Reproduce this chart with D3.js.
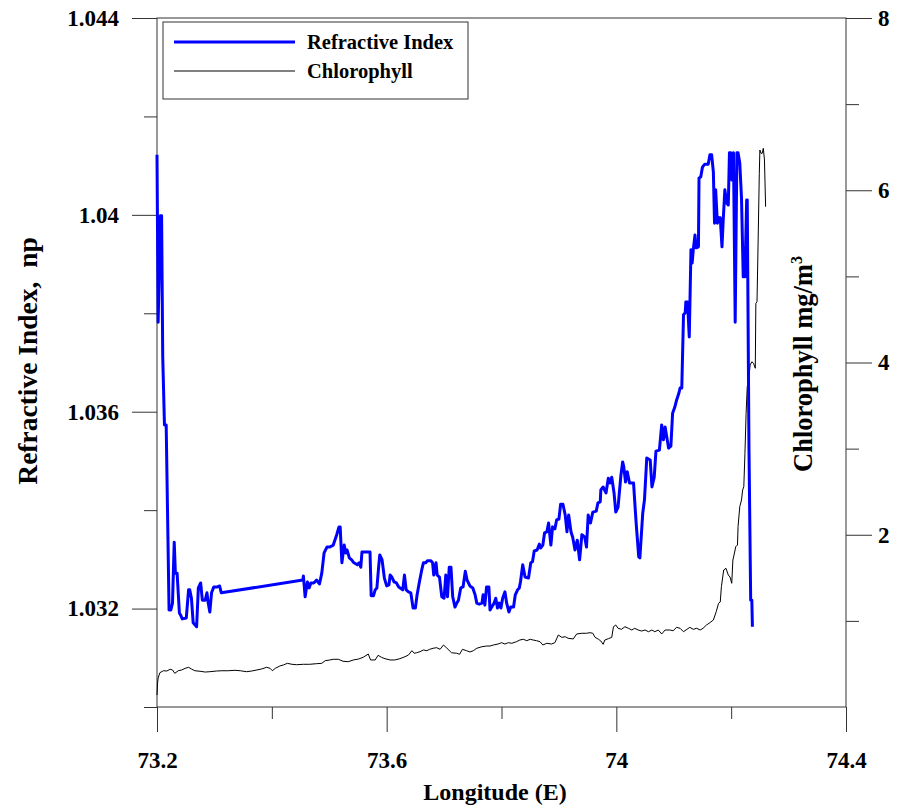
<!DOCTYPE html>
<html>
<head>
<meta charset="utf-8">
<script src="https://cdn.jsdelivr.net/npm/d3@7"></script>
<style>
  body { margin: 0; background: #ffffff; }
  svg { display: block; }
</style>
</head>
<body>
<script>
/**
 * Refractive index and chlorophyll along a longitude transect
 */

// Refractive index, np  ->  [longitude E, np]
const riData = [
  [73.200,1.04122],[73.202,1.03782],[73.206,1.03998],[73.208,1.03998],[73.210,1.03711],[73.213,1.03573],
  [73.216,1.03573],[73.221,1.03197],[73.224,1.03197],[73.227,1.03211],[73.230,1.03335],[73.232,1.03272],
  [73.235,1.03272],[73.239,1.03191],[73.241,1.03187],[73.244,1.03179],[73.251,1.03181],[73.255,1.03238],
  [73.257,1.03238],[73.260,1.03221],[73.263,1.03171],[73.269,1.03163],[73.272,1.03242],[73.276,1.03252],
  [73.279,1.03217],[73.284,1.03217],[73.287,1.03232],[73.289,1.03213],[73.292,1.03193],[73.295,1.03232],
  [73.299,1.03244],[73.305,1.03244],[73.309,1.03246],[73.312,1.03232],
  [73.454,1.03258],[73.455,1.03266],[73.458,1.03224],[73.462,1.03254],[73.465,1.03242],[73.468,1.03252],
  [73.473,1.03252],[73.478,1.03258],[73.483,1.03250],[73.487,1.03272],[73.491,1.03313],[73.496,1.03325],
  [73.501,1.03325],[73.507,1.03329],[73.513,1.03350],[73.517,1.03366],[73.519,1.03366],[73.522,1.03293],
  [73.526,1.03329],[73.529,1.03313],[73.531,1.03319],[73.535,1.03303],[73.539,1.03299],[73.543,1.03293],
  [73.549,1.03289],[73.552,1.03293],[73.555,1.03284],[73.557,1.03315],[73.571,1.03315],[73.573,1.03226],
  [73.577,1.03226],[73.580,1.03238],[73.583,1.03242],[73.586,1.03284],[73.588,1.03309],[73.592,1.03299],
  [73.596,1.03262],[73.600,1.03246],[73.604,1.03248],[73.606,1.03268],[73.609,1.03264],[73.613,1.03254],
  [73.617,1.03252],[73.621,1.03244],[73.628,1.03238],[73.631,1.03268],[73.634,1.03238],[73.638,1.03234],
  [73.642,1.03232],[73.646,1.03201],[73.650,1.03201],[73.653,1.03228],[73.657,1.03254],[73.661,1.03278],
  [73.664,1.03293],[73.668,1.03293],[73.671,1.03297],[73.677,1.03297],[73.680,1.03293],[73.682,1.03268],
  [73.686,1.03293],[73.688,1.03268],[73.692,1.03264],[73.696,1.03224],[73.700,1.03221],[73.703,1.03268],
  [73.706,1.03224],[73.709,1.03284],[73.712,1.03284],[73.715,1.03224],[73.719,1.03203],[73.722,1.03211],
  [73.725,1.03217],[73.729,1.03242],[73.733,1.03244],[73.737,1.03276],[73.740,1.03258],[73.745,1.03246],
  [73.750,1.03242],[73.754,1.03228],[73.757,1.03211],[73.761,1.03209],[73.766,1.03211],[73.768,1.03228],
  [73.771,1.03207],[73.774,1.03244],[73.778,1.03244],[73.780,1.03197],[73.783,1.03203],[73.787,1.03211],
  [73.790,1.03221],[73.793,1.03201],[73.796,1.03211],[73.799,1.03201],[73.802,1.03221],[73.806,1.03234],
  [73.809,1.03211],[73.813,1.03193],[73.816,1.03203],[73.821,1.03203],[73.824,1.03228],[73.828,1.03238],
  [73.831,1.03242],[73.833,1.03254],[73.837,1.03289],[73.841,1.03264],[73.847,1.03262],[73.851,1.03293],
  [73.854,1.03295],[73.857,1.03317],[73.862,1.03319],[73.866,1.03331],[73.868,1.03323],[73.872,1.03329],
  [73.875,1.03354],[73.879,1.03356],[73.882,1.03374],[73.886,1.03329],[73.889,1.03366],[73.893,1.03362],
  [73.896,1.03380],[73.900,1.03382],[73.903,1.03412],[73.907,1.03412],[73.911,1.03390],[73.914,1.03356],
  [73.917,1.03390],[73.921,1.03356],[73.924,1.03345],[73.928,1.03319],[73.932,1.03339],[73.936,1.03299],
  [73.940,1.03350],[73.945,1.03345],[73.948,1.03325],[73.951,1.03390],[73.955,1.03374],[73.959,1.03396],
  [73.965,1.03398],[73.968,1.03415],[73.972,1.03417],[73.973,1.03441],[73.977,1.03447],[73.982,1.03435],
  [73.986,1.03465],[73.989,1.03455],[73.992,1.03467],[73.996,1.03435],[73.999,1.03396],[74.003,1.03406],
  [74.008,1.03471],[74.011,1.03498],[74.013,1.03488],[74.016,1.03457],[74.019,1.03478],[74.023,1.03455],
  [74.030,1.03455],[74.033,1.03400],[74.035,1.03366],[74.039,1.03305],[74.041,1.03303],[74.046,1.03394],
  [74.049,1.03421],[74.053,1.03506],[74.059,1.03502],[74.062,1.03447],[74.066,1.03467],[74.069,1.03520],
  [74.075,1.03522],[74.079,1.03573],[74.082,1.03543],[74.085,1.03569],[74.091,1.03526],[74.095,1.03530],
  [74.098,1.03597],[74.102,1.03610],[74.105,1.03624],[74.109,1.03638],[74.111,1.03648],[74.114,1.03648],
  [74.117,1.03797],[74.120,1.03801],[74.121,1.03823],[74.124,1.03823],[74.127,1.03752],[74.130,1.03929],
  [74.132,1.03902],[74.134,1.03929],[74.137,1.03959],[74.139,1.03933],[74.143,1.03935],[74.144,1.04075],
  [74.147,1.04077],[74.150,1.04097],[74.154,1.04103],[74.160,1.04103],[74.163,1.04122],[74.166,1.04122],
  [74.169,1.04087],[74.171,1.03983],[74.173,1.04051],[74.176,1.03983],[74.178,1.03994],[74.181,1.03994],
  [74.184,1.03935],[74.186,1.03986],[74.189,1.04051],[74.192,1.04024],[74.195,1.04020],[74.197,1.04126],
  [74.199,1.04126],[74.201,1.04071],[74.204,1.04126],[74.207,1.03782],[74.210,1.04126],[74.212,1.04126],
  [74.215,1.04105],[74.218,1.04034],[74.221,1.03874],[74.224,1.03874],[74.227,1.04030],[74.228,1.04030],
  [74.231,1.03528],[74.234,1.03217],[74.236,1.03217],[74.237,1.03163]
];

// Chlorophyll, mg/m3  ->  [longitude E, chl]
const chlData = [
  [73.200,0.139],[73.201,0.279],[73.202,0.337],[73.205,0.398],[73.211,0.421],[73.217,0.418],[73.223,0.438],
  [73.227,0.430],[73.231,0.391],[73.237,0.421],[73.243,0.430],[73.249,0.449],[73.255,0.461],[73.260,0.441],
  [73.266,0.421],[73.275,0.415],[73.284,0.406],[73.292,0.410],[73.304,0.418],[73.313,0.421],[73.324,0.421],
  [73.336,0.426],[73.345,0.421],[73.356,0.410],[73.365,0.418],[73.374,0.430],[73.382,0.441],[73.391,0.461],
  [73.397,0.449],[73.401,0.421],[73.406,0.449],[73.414,0.476],[73.420,0.488],[73.427,0.507],[73.435,0.496],
  [73.443,0.491],[73.455,0.496],[73.466,0.496],[73.478,0.503],[73.487,0.507],[73.493,0.538],[73.501,0.546],
  [73.507,0.554],[73.516,0.554],[73.524,0.531],[73.533,0.526],[73.542,0.546],[73.551,0.557],[73.559,0.577],
  [73.568,0.615],[73.572,0.546],[73.580,0.546],[73.585,0.600],[73.591,0.577],[73.597,0.561],[73.606,0.546],
  [73.614,0.546],[73.623,0.561],[73.632,0.584],[73.638,0.604],[73.644,0.654],[73.648,0.624],[73.652,0.630],
  [73.658,0.642],[73.664,0.662],[73.670,0.654],[73.675,0.670],[73.681,0.682],[73.687,0.689],[73.693,0.670],
  [73.699,0.720],[73.705,0.682],[73.713,0.630],[73.722,0.624],[73.727,0.612],[73.732,0.670],[73.739,0.654],
  [73.745,0.639],[73.751,0.654],[73.757,0.682],[73.766,0.700],[73.774,0.708],[73.780,0.708],[73.786,0.720],
  [73.794,0.731],[73.800,0.747],[73.806,0.731],[73.812,0.747],[73.818,0.740],[73.826,0.758],[73.832,0.778],
  [73.838,0.786],[73.844,0.770],[73.850,0.786],[73.855,0.778],[73.861,0.770],[73.867,0.758],[73.872,0.720],
  [73.879,0.740],[73.887,0.731],[73.893,0.747],[73.899,0.836],[73.905,0.809],[73.911,0.816],[73.916,0.798],
  [73.925,0.790],[73.931,0.848],[73.940,0.856],[73.948,0.856],[73.954,0.863],[73.959,0.856],[73.963,0.809],
  [73.969,0.786],[73.973,0.766],[73.977,0.728],[73.980,0.778],[73.986,0.793],[73.992,0.809],[73.995,0.932],
  [73.999,0.952],[74.003,0.914],[74.009,0.902],[74.015,0.932],[74.021,0.914],[74.027,0.894],[74.032,0.914],
  [74.038,0.894],[74.044,0.882],[74.050,0.894],[74.056,0.874],[74.062,0.894],[74.067,0.874],[74.073,0.894],
  [74.079,0.848],[74.085,0.894],[74.093,0.894],[74.099,0.886],[74.105,0.925],[74.111,0.914],[74.117,0.874],
  [74.123,0.902],[74.128,0.925],[74.134,0.902],[74.140,0.914],[74.146,0.894],[74.151,0.914],[74.157,0.952],
  [74.163,0.979],[74.169,1.010],[74.174,1.107],[74.178,1.204],[74.181,1.219],[74.183,1.397],[74.187,1.591],
  [74.191,1.610],[74.195,1.533],[74.198,1.509],[74.201,1.436],[74.203,1.707],[74.205,1.765],[74.208,1.861],
  [74.211,1.881],[74.212,2.094],[74.215,2.326],[74.218,2.404],[74.220,2.520],[74.222,2.558],[74.224,2.946],
  [74.226,3.410],[74.228,3.719],[74.230,3.758],[74.233,3.971],[74.236,4.009],[74.239,3.991],[74.242,3.933],
  [74.243,4.687],[74.245,4.706],[74.247,5.422],[74.249,6.197],[74.250,6.467],[74.252,6.429],[74.254,6.429],
  [74.256,6.487],[74.258,6.351],[74.260,5.809]
];

// Ticks
const lonMajor = [73.2, 73.6, 74.0, 74.4];
const lonMinor = [73.4, 73.8, 74.2];
const riMajor  = [1.032, 1.036, 1.040, 1.044];
const riMinor  = [1.030, 1.034, 1.038, 1.042];
const chlMajor = [2, 4, 6, 8];
const chlMinor = [1, 3, 5, 7];

// Legend entries
const legendItems = [
  { label: 'Refractive Index', color: '#0000ff', width: 3 },
  { label: 'Chlorophyll',      color: '#000000', width: 1 }
];

// Dimensions
const W = 898, H = 808;
const margin = { top: 18, right: 52, bottom: 101, left: 157 };
const FIG_W  = W - margin.left - margin.right;
const FIG_H  = H - margin.top - margin.bottom;

// Colors + font
const FG   = '#000000';
const AX   = '#333333';
const FONT = "'Liberation Serif', 'Times New Roman', serif";

// SCALES
const x    = d3.scaleLinear().domain([73.2, 74.4]).range([0, FIG_W]);
const yRI  = d3.scaleLinear().domain([1.030, 1.044]).range([FIG_H, 0]);
const yChl = d3.scaleLinear().domain([0, 8]).range([FIG_H, 0]);

// SVG
const svg = d3.select('body').append('svg')
  .attr('width', W)
  .attr('height', H);

svg.append('rect')
  .attr('width', W)
  .attr('height', H)
  .attr('fill', '#ffffff');

const g = svg.append('g')
  .attr('transform', `translate(${margin.left},${margin.top})`);

// Axes
const styleAxis = sel => {
  sel.attr('font-family', FONT)
    .attr('font-size', 23)
    .attr('font-weight', 'bold');
  sel.select('.domain').remove();
  sel.selectAll('line').attr('stroke', AX);
  sel.selectAll('text')
    .attr('fill', FG)
    .style('font-family', FONT)
    .style('font-size', '23px')
    .style('font-weight', 'bold');
};
const fmt = d => String(+d.toFixed(3));

g.append('g')
  .call(d3.axisLeft(yRI).tickValues(riMinor).tickSize(13).tickFormat(''))
  .call(styleAxis);
g.append('g')
  .call(d3.axisLeft(yRI).tickValues(riMajor).tickSize(25).tickPadding(13).tickFormat(fmt))
  .call(styleAxis);

g.append('g')
  .attr('transform', `translate(0,${FIG_H})`)
  .call(d3.axisBottom(x).tickValues(lonMinor).tickSize(12).tickFormat(''))
  .call(styleAxis);
g.append('g')
  .attr('transform', `translate(0,${FIG_H})`)
  .call(d3.axisBottom(x).tickValues(lonMajor).tickSize(25).tickPadding(20).tickFormat(fmt))
  .call(styleAxis);

g.append('g')
  .attr('transform', `translate(${FIG_W},0)`)
  .call(d3.axisRight(yChl).tickValues(chlMinor).tickSize(13).tickFormat(''))
  .call(styleAxis);
g.append('g')
  .attr('transform', `translate(${FIG_W},0)`)
  .call(d3.axisRight(yChl).tickValues(chlMajor).tickSize(26).tickPadding(6).tickFormat(fmt))
  .call(styleAxis);

// Frame
g.append('rect')
  .attr('width', FIG_W)
  .attr('height', FIG_H)
  .attr('fill', 'none')
  .attr('stroke', AX)
  .attr('stroke-width', 1);

// Lines
const lineRI  = d3.line().x(d => x(d[0])).y(d => yRI(d[1]));
const lineChl = d3.line().x(d => x(d[0])).y(d => yChl(d[1]));

g.append('path')
  .datum(chlData)
  .attr('d', lineChl)
  .attr('fill', 'none')
  .attr('stroke', '#000000')
  .attr('stroke-width', 1);

g.append('path')
  .datum(riData)
  .attr('d', lineRI)
  .attr('fill', 'none')
  .attr('stroke', '#0000ff')
  .attr('stroke-width', 3)
  .attr('stroke-linejoin', 'round');

// Legend
const legend = svg.append('g').attr('transform', 'translate(163,22)');
legend.append('rect')
  .attr('width', 305)
  .attr('height', 77)
  .attr('fill', '#ffffff')
  .attr('stroke', AX)
  .attr('stroke-width', 1);

const item = legend.selectAll('g.item')
  .data(legendItems)
  .join('g')
  .attr('class', 'item')
  .attr('transform', (d, i) => `translate(0,${20 + i * 29})`);
item.append('line')
  .attr('x1', 11).attr('x2', 132)
  .attr('stroke', d => d.color)
  .attr('stroke-width', d => d.width);
item.append('text')
  .attr('x', 144)
  .attr('y', 7)
  .attr('font-family', FONT)
  .attr('font-size', 20.5)
  .attr('font-weight', 'bold')
  .attr('fill', FG)
  .text(d => d.label);

// Axis titles
svg.append('text')
  .attr('x', 495)
  .attr('y', 800)
  .attr('text-anchor', 'middle')
  .attr('font-family', FONT)
  .attr('font-size', 24)
  .attr('font-weight', 'bold')
  .attr('fill', FG)
  .text('Longitude (E)');

svg.append('text')
  .attr('transform', 'translate(37,361) rotate(-90)')
  .attr('text-anchor', 'middle')
  .attr('font-family', FONT)
  .attr('font-size', 27.5)
  .attr('font-weight', 'bold')
  .attr('fill', FG)
  .attr('xml:space', 'preserve')
  .style('white-space', 'pre')
  .text('Refractive Index,  np');

const rTitle = svg.append('text')
  .attr('transform', 'translate(812,364) rotate(-90)')
  .attr('text-anchor', 'middle')
  .attr('font-family', FONT)
  .attr('font-size', 26.5)
  .attr('font-weight', 'bold')
  .attr('fill', FG);
rTitle.append('tspan').text('Chlorophyll mg/m');
rTitle.append('tspan').attr('font-size', 16).attr('dy', -10).text('3');
</script>
</body>
</html>
